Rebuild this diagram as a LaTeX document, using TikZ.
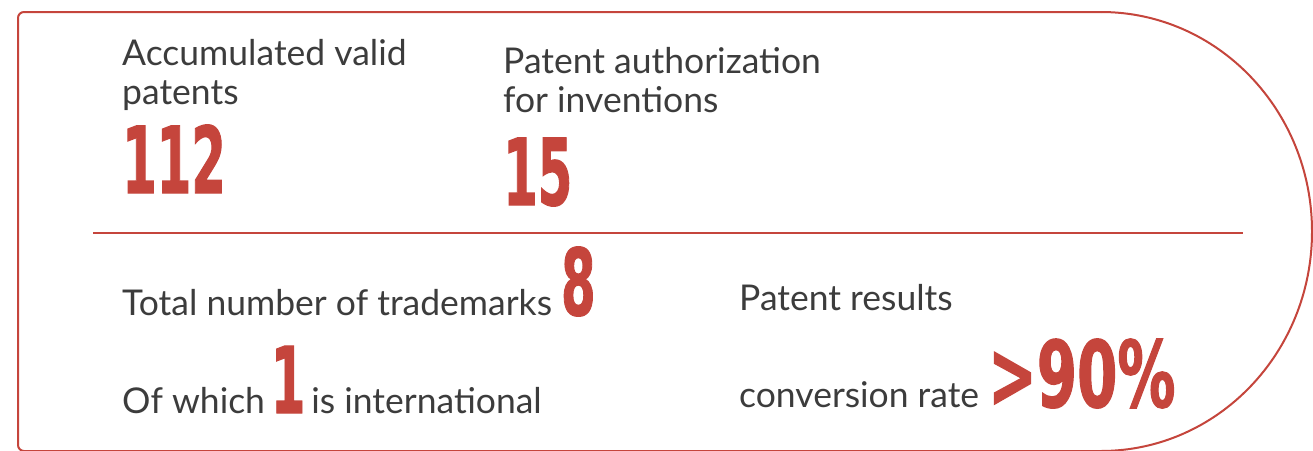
\documentclass[tikz,border=0pt]{standalone}
\usepackage{fontspec}
\usepackage{graphicx}
\setmainfont{Lato}
\newfontfamily\numfont{DejaVu Sans Condensed}[FakeBold=1.5]
\definecolor{patRed}{HTML}{C5453C}
\definecolor{patGray}{HTML}{3C3C3C}
\newcommand{\bignum}[2][0.6]{{\numfont\bfseries\color{patRed}\fontsize{92}{92}\selectfont\scalebox{#1}[1]{#2}}}

\begin{document}
\begin{tikzpicture}[x=1pt, y=-1pt,
boxLine/.style={draw=patRed, line width=2pt},
sepLine/.style={draw=patRed, line width=2pt},
rectLabel/.style={anchor=base west, inner sep=0pt, align=left, text=patGray, font=\fontsize{35.5}{39}\selectfont},
rectNum/.style={anchor=base west, inner sep=0pt}]

\useasboundingbox (0,0) rectangle (1313,450);

% outline, round on the right
\draw[boxLine, rounded corners=6pt] (1101,12) -- (18,12) -- (18,451) -- (1101,451);
\draw[boxLine] (1101,451) arc[start angle=90, end angle=-90, x radius=211, y radius=219.5];

\draw[sepLine] (93,233) -- (1243,233);

% base = last line
\node[rectLabel] (valid) at (122,104) {Accumulated valid\\patents};
\node[rectNum] (validNum) at (122,193) {\bignum{112}};

\node[rectLabel] (invent) at (503,112) {Patent authorization\\for inventions};
\node[rectNum] (inventNum) at (503,205) {\bignum{15}};

\node[rectLabel] (marks) at (122,315) {Total number of trademarks \bignum{8}};
\node[rectLabel] (intl) at (122,413) {Of which\,\bignum{1}\,is international};

\node[rectLabel] (results) at (739,310) {Patent results};
\node[rectLabel] (rate) at (739,407) {conversion rate \bignum[0.7]{>90\%}};

\end{tikzpicture}
\end{document}
